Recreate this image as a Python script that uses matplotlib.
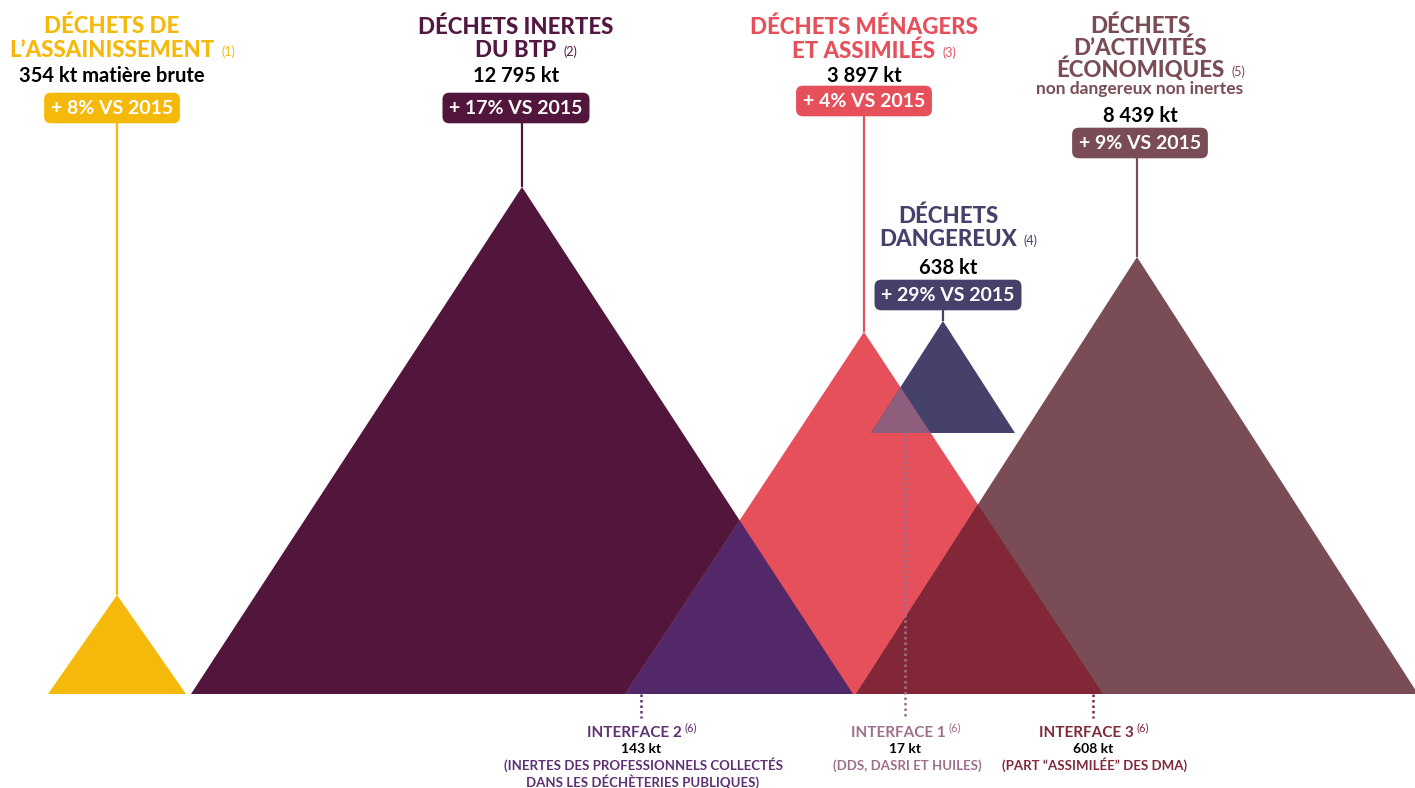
import matplotlib.pyplot as plt
from matplotlib.patches import Polygon

# --- données -------------------------------------------------------------
titles = [["DÉCHETS DE", "L\u2019ASSAINISSEMENT"],
          ["DÉCHETS INERTES", "DU BTP"],
          ["DÉCHETS MÉNAGERS", "ET ASSIMILÉS"],
          ["DÉCHETS", "DANGEREUX"],
          ["DÉCHETS", "D\u2019ACTIVITÉS", "ÉCONOMIQUES"]]
notes = ["(1)", "(2)", "(3)", "(4)", "(5)"]
subtitles = ["", "", "", "", "non dangereux non inertes"]
tonnage_kt = [354, 12795, 3897, 638, 8439]
units = ["kt matière brute", "kt", "kt", "kt", "kt"]
evolution_pct = [8, 17, 4, 29, 9]

interfaces = ["INTERFACE 2", "INTERFACE 1", "INTERFACE 3"]
interface_kt = [143, 17, 608]
interface_desc = [["(INERTES DES PROFESSIONNELS COLLECTÉS", "DANS LES DÉCHÈTERIES PUBLIQUES)"],
                  ["(DDS, DASRI ET HUILES)"],
                  ["(PART \u201cASSIMILÉE\u201d DES DMA)"]]
interface_pairs = [(1, 2), (3, 2), (4, 2)]

# --- mise en page (pixels) -----------------------------------------------
colors = ["#F5B90B", "#52153B", "#E5505B", "#46416A", "#7A4C55"]
title_colors = ["#F5B90B", "#541742", "#E5505B", "#46416A", "#7A4C55"]
inter_fill = ["#532869", "#8E5E7C", "#812737"]
inter_text = ["#5E2F72", "#9E6F8B", "#80273A"]

apex_x = [117, 522, 864, 943, 1137]
apex_y = [595, 187, 332, 321, 257]
base_y = [694, 694, 694, 433, 694]
half_w = [69, 331, 239, 72, 281]

label_x = [112, 516, 864, 948, 1140]
title_y0 = [33, 34, 34, 223, 33]
line_gap = [24, 23, 24, 23, 22]
sub_y = [0, 0, 0, 0, 94]
ton_y = [82, 82, 82, 274, 122]
badge_y = [108, 108, 101, 295, 143]

inter_x = [641, 905, 1093]
inter_line_y0 = [694, 433, 694]

FONT = "Lato"

fig = plt.figure(figsize=(14.15, 7.88), dpi=100)
ax = fig.add_axes([0, 0, 1, 1])
ax.set_xlim(0, 1415)
ax.set_ylim(788, 0)
ax.axis("off")

# triangles
patches = []
for i in range(len(titles)):
    tri = Polygon([(apex_x[i] - half_w[i], base_y[i]), (apex_x[i], apex_y[i]),
                   (apex_x[i] + half_w[i], base_y[i])],
                  closed=True, facecolor=colors[i], edgecolor="none", zorder=2)
    ax.add_patch(tri)
    patches.append(tri)

# zones d'interface = intersection de deux triangles
for k, (a, b) in enumerate(interface_pairs):
    over = Polygon(patches[a].get_xy(), closed=True, facecolor=inter_fill[k],
                   edgecolor="none", zorder=3)
    ax.add_patch(over)
    over.set_clip_path(patches[b])

fig.canvas.draw()
renderer = fig.canvas.get_renderer()

# étiquettes des gisements
for i in range(len(titles)):
    y = title_y0[i]
    last = None
    for line in titles[i]:
        last = ax.text(label_x[i], y, line, ha="center", va="baseline", fontsize=16,
                       fontweight="black", color=title_colors[i], family=FONT, zorder=5)
        y += line_gap[i]
    bb = last.get_window_extent(renderer).transformed(ax.transData.inverted())
    ax.text(bb.x1 + 7, bb.y0 - 5, notes[i], ha="left", va="baseline", fontsize=9,
            color=title_colors[i], family=FONT, zorder=5)
    if subtitles[i]:
        ax.text(label_x[i], sub_y[i], subtitles[i], ha="center", va="baseline",
                fontsize=12.5, fontweight="bold", color=title_colors[i], family=FONT)
    ton = f"{tonnage_kt[i]:,}".replace(",", " ") + " " + units[i]
    ax.text(label_x[i], ton_y[i], ton, ha="center", va="baseline", fontsize=14.5,
            fontweight="bold", color="black", family=FONT)
    ax.text(label_x[i], badge_y[i], f"+ {evolution_pct[i]}% VS 2015", ha="center",
            va="center", fontsize=14, fontweight="bold", color="white", family=FONT,
            zorder=6, bbox=dict(boxstyle="round,pad=0.35,rounding_size=0.35",
                                facecolor=colors[i], edgecolor="none"))
    ax.plot([apex_x[i], apex_x[i]], [badge_y[i], apex_y[i]], color=colors[i],
            lw=1.6, zorder=1, solid_capstyle="butt")

# étiquettes des interfaces
for k in range(len(interfaces)):
    ax.plot([inter_x[k], inter_x[k]], [inter_line_y0[k], 718], color=inter_text[k],
            lw=1.8, ls=(0, (1, 1.2)), zorder=4)
    t = ax.text(inter_x[k] - 7, 737, interfaces[k], ha="center", va="baseline",
                fontsize=11, fontweight="bold", color=inter_text[k], family=FONT)
    bb = t.get_window_extent(renderer).transformed(ax.transData.inverted())
    ax.text(bb.x1 + 3, 731, "(6)", ha="left", va="baseline", fontsize=8,
            color=inter_text[k], family=FONT)
    ax.text(inter_x[k], 753, f"{interface_kt[k]} kt", ha="center", va="baseline",
            fontsize=10, fontweight="bold", color="black", family=FONT)
    for j, line in enumerate(interface_desc[k]):
        ax.text(inter_x[k] + 2, 770 + 16.5 * j, line, ha="center", va="baseline",
                fontsize=9.5, fontweight="bold", color=inter_text[k], family=FONT)

fig.savefig("out.png", dpi=100, facecolor="white")
